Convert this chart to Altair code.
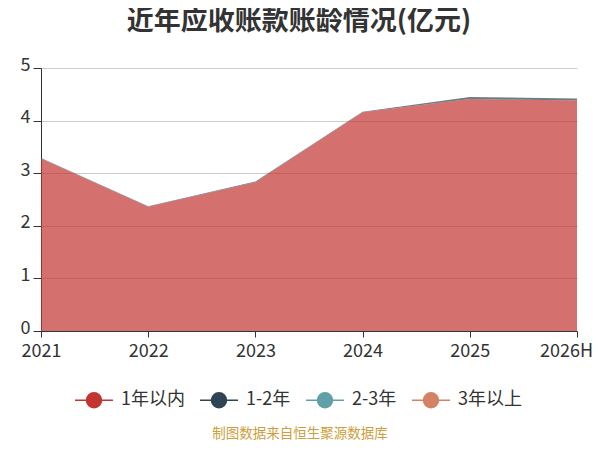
import altair as alt
import pandas as pd

years = ["2021", "2022", "2023", "2024", "2025", "2026H"]
series = ["1年以内", "1-2年", "2-3年", "3年以上"]
v_within1 = [3.28, 2.36, 2.83, 4.16, 4.41, 4.38]
v_1to2 = [0.01, 0.01, 0.01, 0.01, 0.04, 0.04]
v_2to3 = [0.0, 0.0, 0.0, 0.0, 0.0, 0.0]
v_over3 = [0.0, 0.0, 0.0, 0.0, 0.0, 0.0]
colors = ["#c23531", "#2f4554", "#61a0a8", "#d48265"]

rows = []
for k, (name, vals) in enumerate(zip(series, [v_within1, v_1to2, v_2to3, v_over3])):
    for y, v in zip(years, vals):
        rows.append({"year": y, "series": name, "value": v, "ord": k})
df = pd.DataFrame(rows)

FONT = "Noto Sans CJK SC"
sym_path = "M-2.53,0H2.53M1,0A1,1,0,1,1,-1,0A1,1,0,1,1,1,0Z"

scale = alt.Scale(domain=series, range=colors)
legend = alt.Legend(
    title=None, orient="none", legendX=32, legendY=323, direction="horizontal",
    symbolType=sym_path, symbolSize=225, symbolStrokeWidth=1.5, symbolOffset=12,
    symbolOpacity=1, labelOffset=18, labelFontSize=18, labelColor="#333333",
    labelFont=FONT, columnPadding=12, padding=0,
)

area = alt.Chart(df).mark_area(opacity=0.7, strokeWidth=0).encode(
    x=alt.X("year:O", sort=years, scale=alt.Scale(type="point", padding=0),
            axis=alt.Axis(title=None, labelAngle=0, tickSize=6, labelPadding=5,
                          labelFontSize=18, labelColor="#333333", labelFont=FONT,
                          labelOffset={"condition": {"test": "datum.value === '2026H'", "value": -11},
                                       "value": 0},
                          domainColor="#333333", tickColor="#333333",
                          labelOverlap=False, grid=False)),
    y=alt.Y("value:Q", stack="zero", scale=alt.Scale(domain=[0, 5], nice=False),
            axis=alt.Axis(title=None, values=[0, 1, 2, 3, 4, 5], tickSize=8, labelPadding=3,
                          labelOffset=-3,
                          labelFontSize=18, labelColor="#333333", labelFont=FONT,
                          domainColor="#333333", tickColor="#333333",
                          gridColor="#cccccc", grid=True)),
    fill=alt.Fill("series:N", scale=scale, legend=legend, sort=series),
    stroke=alt.Stroke("series:N", scale=scale, legend=legend, sort=series),
    order=alt.Order("ord:Q"),
)

footer = alt.Chart(pd.DataFrame({"t": ["制图数据来自恒生聚源数据库"]})).mark_text(
    font=FONT, fontSize=13.5, color="#cc9e3a", align="center", baseline="middle"
).encode(text="t:N", x=alt.value(259), y=alt.value(366))

chart = alt.layer(area, footer).properties(
    width=536, height=263,
    padding={"left": 33, "top": 60, "right": 15, "bottom": 111},
    autosize="none",
    title=alt.TitleParams("近年应收账款账龄情况(亿元)", anchor="middle", dx=-10, offset=20,
                          fontSize=27, fontWeight="bold", color="#333333", font=FONT),
).configure_view(stroke=None)

chart.save("out.html", embed_options={"renderer": "svg", "actions": False})
